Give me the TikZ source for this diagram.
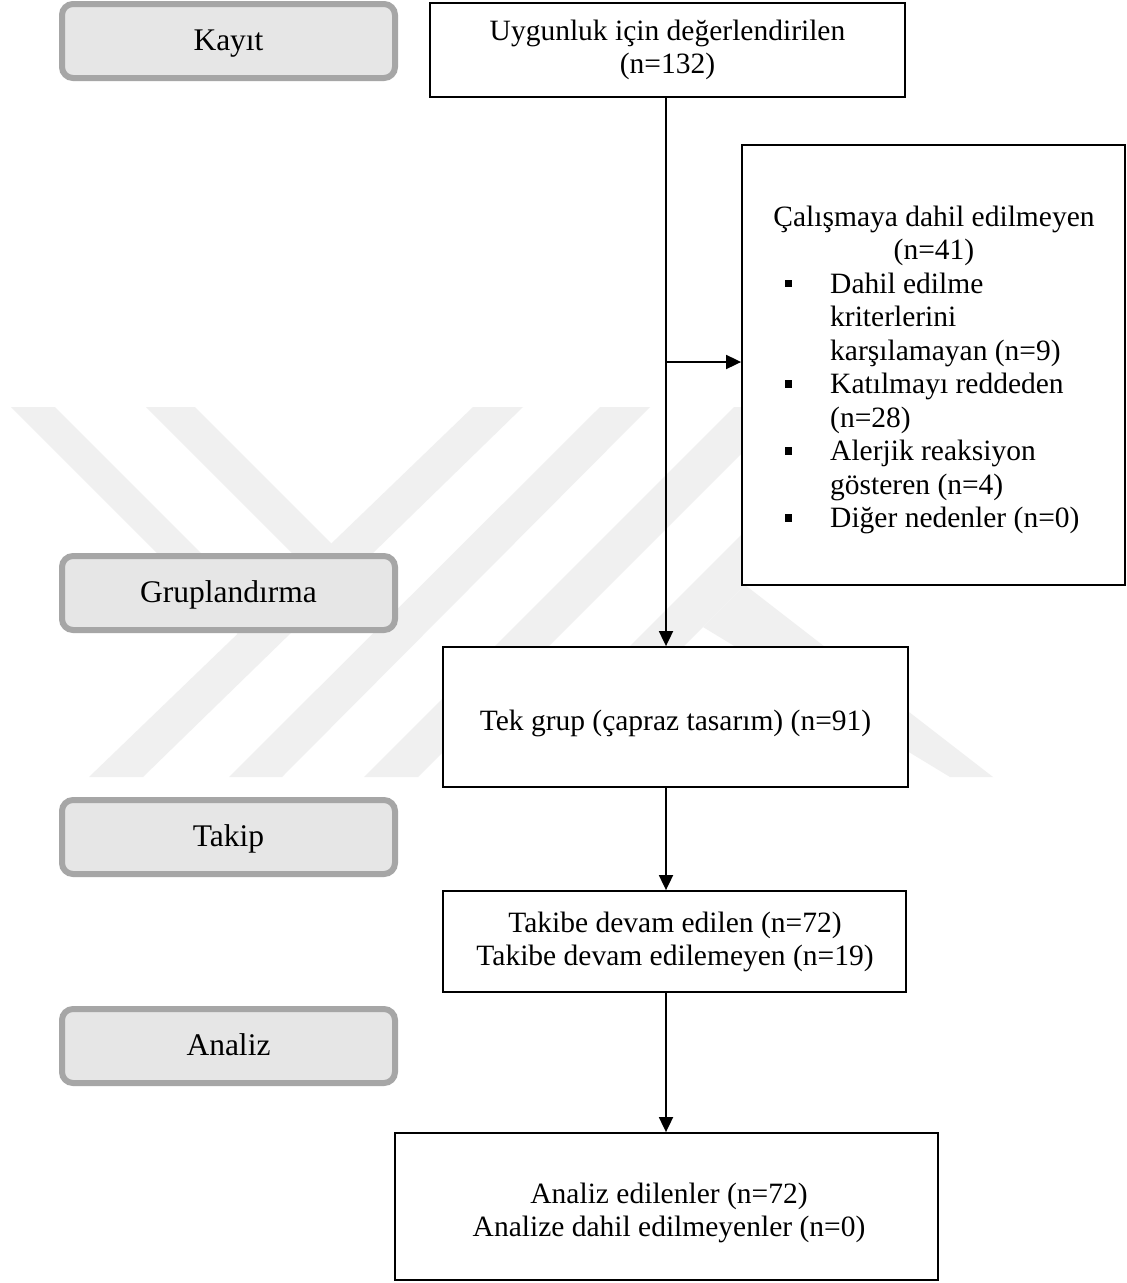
\documentclass[tikz,border=0pt]{standalone}
\usepackage{fontspec}
\setmainfont{Liberation Serif}
\usetikzlibrary{arrows.meta}
\definecolor{lblborder}{RGB}{166,166,166}
\definecolor{lblfill}{RGB}{230,230,230}
\definecolor{wm}{RGB}{240,240,240}
\newcommand{\ftx}{\fontsize{29.5}{33.5}\selectfont}
\newcommand{\flbl}{\fontsize{31.5}{36}\selectfont}
\newcommand{\bul}{\llap{\rule[6pt]{7.5pt}{7.5pt}\hspace{38pt}}}
\begin{document}
\begin{tikzpicture}[x=1pt,y=-1pt,
  lbl/.style={draw=lblborder, line width=6pt, fill=lblfill, rounded corners=11pt,
    minimum width=333pt, minimum height=74pt, inner sep=0pt, font=\flbl,
    text height=22pt, text depth=4pt},
  box/.style={draw=black, line width=1.8pt, fill=white, inner sep=0pt, font=\ftx, align=center},
  txt/.style={inner sep=0pt, font=\ftx},
  arr/.style={line width=1.8pt, -{Triangle[width=14pt,length=15pt]}}]
\useasboundingbox (0,0) rectangle (1127,1283);
\fill[white] (0,0) rectangle (1127,1283);
% watermark
\fill[wm] (89,777) -- (143,777) -- (523,407) -- (473,407) -- cycle;
\fill[wm] (229,777) -- (282,777) -- (650,407) -- (600,407) -- cycle;
\fill[wm] (364,777) -- (418,777) -- (788,407) -- (734,407) -- cycle;
\fill[wm] (499,777) -- (553,777) -- (923,407) -- (869,407) -- cycle;
\fill[wm] (11,407) -- (55,407) -- (273,625) -- (254,650) -- cycle;
\fill[wm] (146,407) -- (195,407) -- (343,555) -- (319,580) -- cycle;
\fill[wm] (703,627) -- (745,585) -- (993,777) -- (950,777) -- cycle;
% stage labels
\node[lbl] (kayit) at (228.5,41) {Kayıt};
\node[lbl] (grup) at (228.5,593) {Gruplandırma};
\node[lbl] (takip) at (228.5,837) {Takip};
\node[lbl] (analiz) at (228.5,1046) {Analiz};
% boxes
\node[box, minimum width=475pt, minimum height=94pt] (elig) at (667.5,50) {Uygunluk için değerlendirilen\\(n=132)};
\node[box, minimum width=383pt, minimum height=440pt] (excl) at (933.5,365) {};
\node[box, minimum width=465pt, minimum height=140pt] (tek) at (675.5,717) {};
\node[box, minimum width=463pt, minimum height=101pt] (takibe) at (674.5,941.5) {};
\node[box, minimum width=543pt, minimum height=147pt] (anl) at (666.5,1206.5) {};
% box texts
\node[txt, anchor=base] (tekt) at (675.5,730) {Tek grup (çapraz tasarım) (n=91)};
\node[txt, anchor=base] (tak1) at (675,932) {Takibe devam edilen (n=72)};
\node[txt, anchor=base] (tak2) at (675,965.5) {Takibe devam edilemeyen (n=19)};
\node[txt, anchor=base] (anl1) at (669,1203) {Analiz edilenler (n=72)};
\node[txt, anchor=base] (anl2) at (669,1236.5) {Analize dahil edilmeyenler (n=0)};
% exclusion text
\node[txt, anchor=base] (exh1) at (934,226) {Çalışmaya dahil edilmeyen};
\node[txt, anchor=base] (exh2) at (934,259.5) {(n=41)};
\foreach \t [count=\i] in {{\bul Dahil edilme}, {kriterlerini}, {karşılamayan (n=9)}, {\bul Katılmayı reddeden}, {(n=28)}, {\bul Alerjik reaksiyon}, {gösteren (n=4)}, {\bul Diğer nedenler (n=0)}}
  \node[txt, anchor=base west] (exl\i) at (830,{293+33.5*(\i-1)}) {\t};
% connectors
\coordinate (jx) at (666,362);
\draw[arr] (elig.south -| jx) -- (tek.north -| jx);
\draw[arr] (jx) -- (excl.west |- jx);
\draw[arr] (tek.south -| jx) -- (takibe.north -| jx);
\draw[arr] (takibe.south -| jx) -- (anl.north -| jx);
\end{tikzpicture}
\end{document}
